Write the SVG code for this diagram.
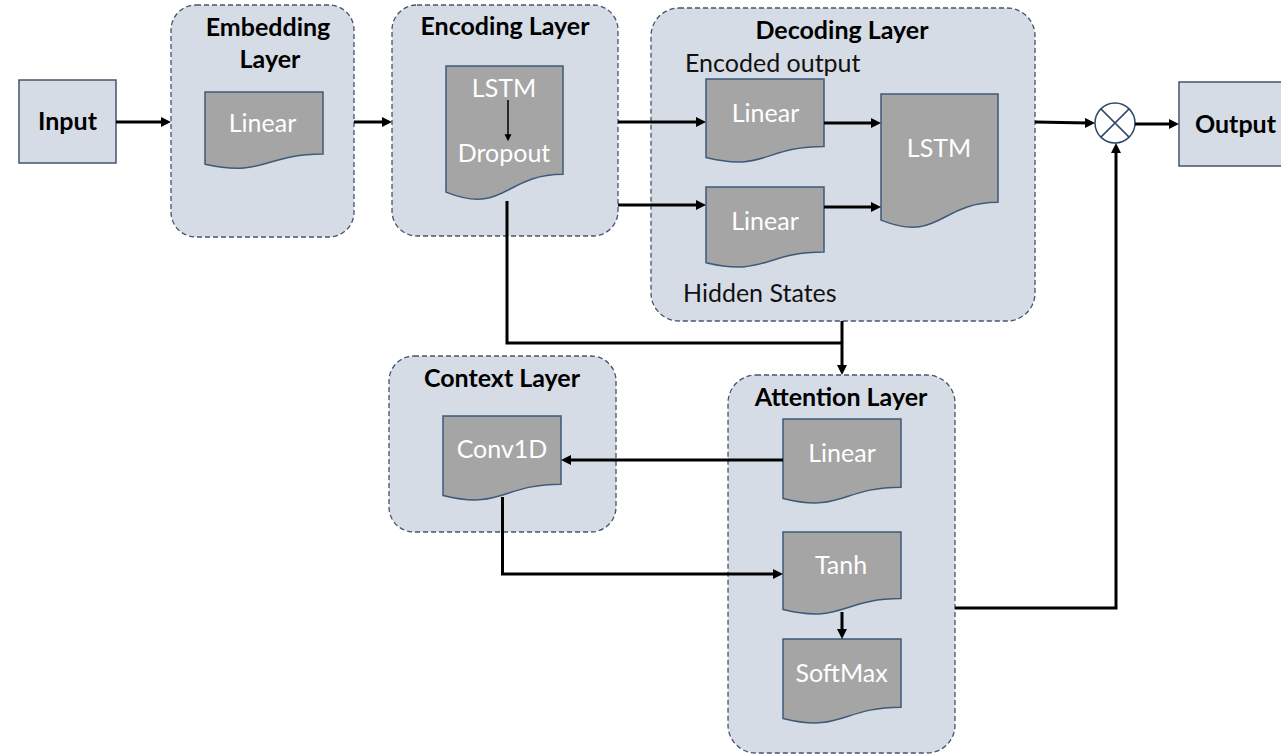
<svg xmlns="http://www.w3.org/2000/svg" width="1281" height="754" viewBox="0 0 1281 754">
  <style>
    .layer { fill: #D6DCE5; stroke: #44546A; stroke-width: 1.3; stroke-dasharray: 5 3; }
    .io { fill: #D6DCE5; stroke: #44546A; stroke-width: 1.5; }
    .doc { fill: #A5A5A5; stroke: #3E5A78; stroke-width: 1.5; }
    .title { font-family: Lato, "Liberation Sans", sans-serif; font-weight: bold; font-size: 25px; fill: #000; text-anchor: middle; }
    .label { font-family: Lato, "Liberation Sans", sans-serif; font-size: 25px; fill: #FFFFFF; text-anchor: middle; }
    .note { font-family: Lato, "Liberation Sans", sans-serif; font-size: 25px; fill: #111; }
    .wire { fill: none; stroke: #000; stroke-width: 3; }
    .thin { fill: none; stroke: #000; stroke-width: 1.5; }
  </style>
  <defs>
    <marker id="arrow" markerUnits="userSpaceOnUse" viewBox="0 0 10 10" markerWidth="10" markerHeight="10" refX="4" refY="5" orient="auto">
      <path d="M0,0 L10,5 L0,10 z" fill="#000"/>
    </marker>
    <marker id="arrowSmall" markerUnits="userSpaceOnUse" viewBox="0 0 10 10" markerWidth="7" markerHeight="8" refX="4" refY="5" orient="auto">
      <path d="M0,0 L10,5 L0,10 z" fill="#000"/>
    </marker>
  </defs>

  <!-- Input -->
  <g id="input">
    <rect class="io" x="19" y="80" width="97" height="83"/>
    <text class="title" x="67.5" y="130">Input</text>
  </g>

  <!-- Embedding layer -->
  <g id="embedding">
    <rect class="layer" x="171" y="5" width="183" height="232" rx="25" ry="25"/>
    <text class="title" x="268" y="36">Embedding</text>
    <text class="title" x="270" y="68">Layer</text>
    <path class="doc" d="M205,92 H323 V154 C264,154 264,177.6 205,164.2 Z"/>
    <text class="label" x="262.5" y="132">Linear</text>
  </g>

  <!-- Encoding layer -->
  <g id="encoding">
    <rect class="layer" x="392" y="5" width="226" height="231" rx="25" ry="25"/>
    <text class="title" x="505" y="35">Encoding Layer</text>
    <path class="doc" d="M446,66 H563 V174.3 C504.5,174.3 504.5,215.4 446,192.1 Z"/>
    <text class="label" x="504" y="97">LSTM</text>
    <path class="thin" d="M508,100 V137" marker-end="url(#arrowSmall)"/>
    <text class="label" x="504" y="162">Dropout</text>
  </g>

  <!-- Decoding layer -->
  <g id="decoding">
    <rect class="layer" x="651" y="8" width="384" height="313" rx="28" ry="28"/>
    <text class="title" x="842" y="39">Decoding Layer</text>
    <text class="note" x="685" y="72">Encoded output</text>
    <text class="note" x="683" y="302">Hidden States</text>
    <g id="dec-linear-1">
      <path class="doc" d="M706,79 H824 V146.4 C765,146.4 765,172 706,157.5 Z"/>
      <text class="label" x="765.5" y="122">Linear</text>
    </g>
    <g id="dec-linear-2">
      <path class="doc" d="M706,187 H824 V252 C765,252 765,276.7 706,262.7 Z"/>
      <text class="label" x="765" y="230">Linear</text>
    </g>
    <g id="dec-lstm">
      <path class="doc" d="M881,94 H998 V202.3 C939.5,202.3 939.5,243.4 881,220.1 Z"/>
      <text class="label" x="939" y="157">LSTM</text>
    </g>
  </g>

  <!-- Context layer -->
  <g id="context">
    <rect class="layer" x="389" y="356" width="227" height="176" rx="25" ry="25"/>
    <text class="title" x="502" y="387">Context Layer</text>
    <path class="doc" d="M443,416 H561 V484.2 C502,484.2 502,510.1 443,495.4 Z"/>
    <text class="label" x="502" y="458">Conv1D</text>
  </g>

  <!-- Attention layer -->
  <g id="attention">
    <rect class="layer" x="728" y="375" width="227" height="378" rx="28" ry="28"/>
    <text class="title" x="841" y="406">Attention Layer</text>
    <g id="att-linear">
      <path class="doc" d="M783,419 H901 V487.2 C842,487.2 842,513.1 783,498.4 Z"/>
      <text class="label" x="842" y="462">Linear</text>
    </g>
    <g id="att-tanh">
      <path class="doc" d="M783,532 H901 V598.6 C842,598.6 842,623.9 783,609.5 Z"/>
      <text class="label" x="841" y="574">Tanh</text>
    </g>
    <g id="att-softmax">
      <path class="doc" d="M783,639 H901 V707.2 C842,707.2 842,733.1 783,718.4 Z"/>
      <text class="label" x="841.5" y="682">SoftMax</text>
    </g>
  </g>

  <!-- Multiply junction -->
  <g id="multiply">
    <circle cx="1115" cy="123" r="20" fill="#FFFFFF" stroke="#2E4A66" stroke-width="1.5"/>
    <path d="M1100.9,108.9 L1129.1,137.1 M1129.1,108.9 L1100.9,137.1" stroke="#2E4A66" stroke-width="1.5" fill="none"/>
  </g>

  <!-- Output -->
  <g id="output">
    <rect class="io" x="1179" y="82" width="110" height="84"/>
    <text class="title" x="1235.5" y="133">Output</text>
  </g>

  <!-- Connectors -->
  <g id="connectors">
    <path class="wire" d="M116,122 H165" marker-end="url(#arrow)"/>
    <path class="wire" d="M354,122 H386" marker-end="url(#arrow)"/>
    <path class="wire" d="M618,122 H700" marker-end="url(#arrow)"/>
    <path class="wire" d="M618,205 H700" marker-end="url(#arrow)"/>
    <path class="wire" d="M824,123 H875" marker-end="url(#arrow)"/>
    <path class="wire" d="M824,207 H875" marker-end="url(#arrow)"/>
    <path class="wire" d="M1035,122 L1089,123" marker-end="url(#arrow)"/>
    <path class="wire" d="M1135,124 H1173" marker-end="url(#arrow)"/>
    <path class="wire" d="M507,201 V343 H842"/>
    <path class="wire" d="M842,321 V369" marker-end="url(#arrow)"/>
    <path class="wire" d="M783,460 H567" marker-end="url(#arrow)"/>
    <path class="wire" d="M502.5,497 V574 H777" marker-end="url(#arrow)"/>
    <path class="wire" d="M842,612 V633" marker-end="url(#arrow)"/>
    <path class="wire" d="M955,608 H1116 V149" marker-end="url(#arrow)"/>
  </g>
</svg>
